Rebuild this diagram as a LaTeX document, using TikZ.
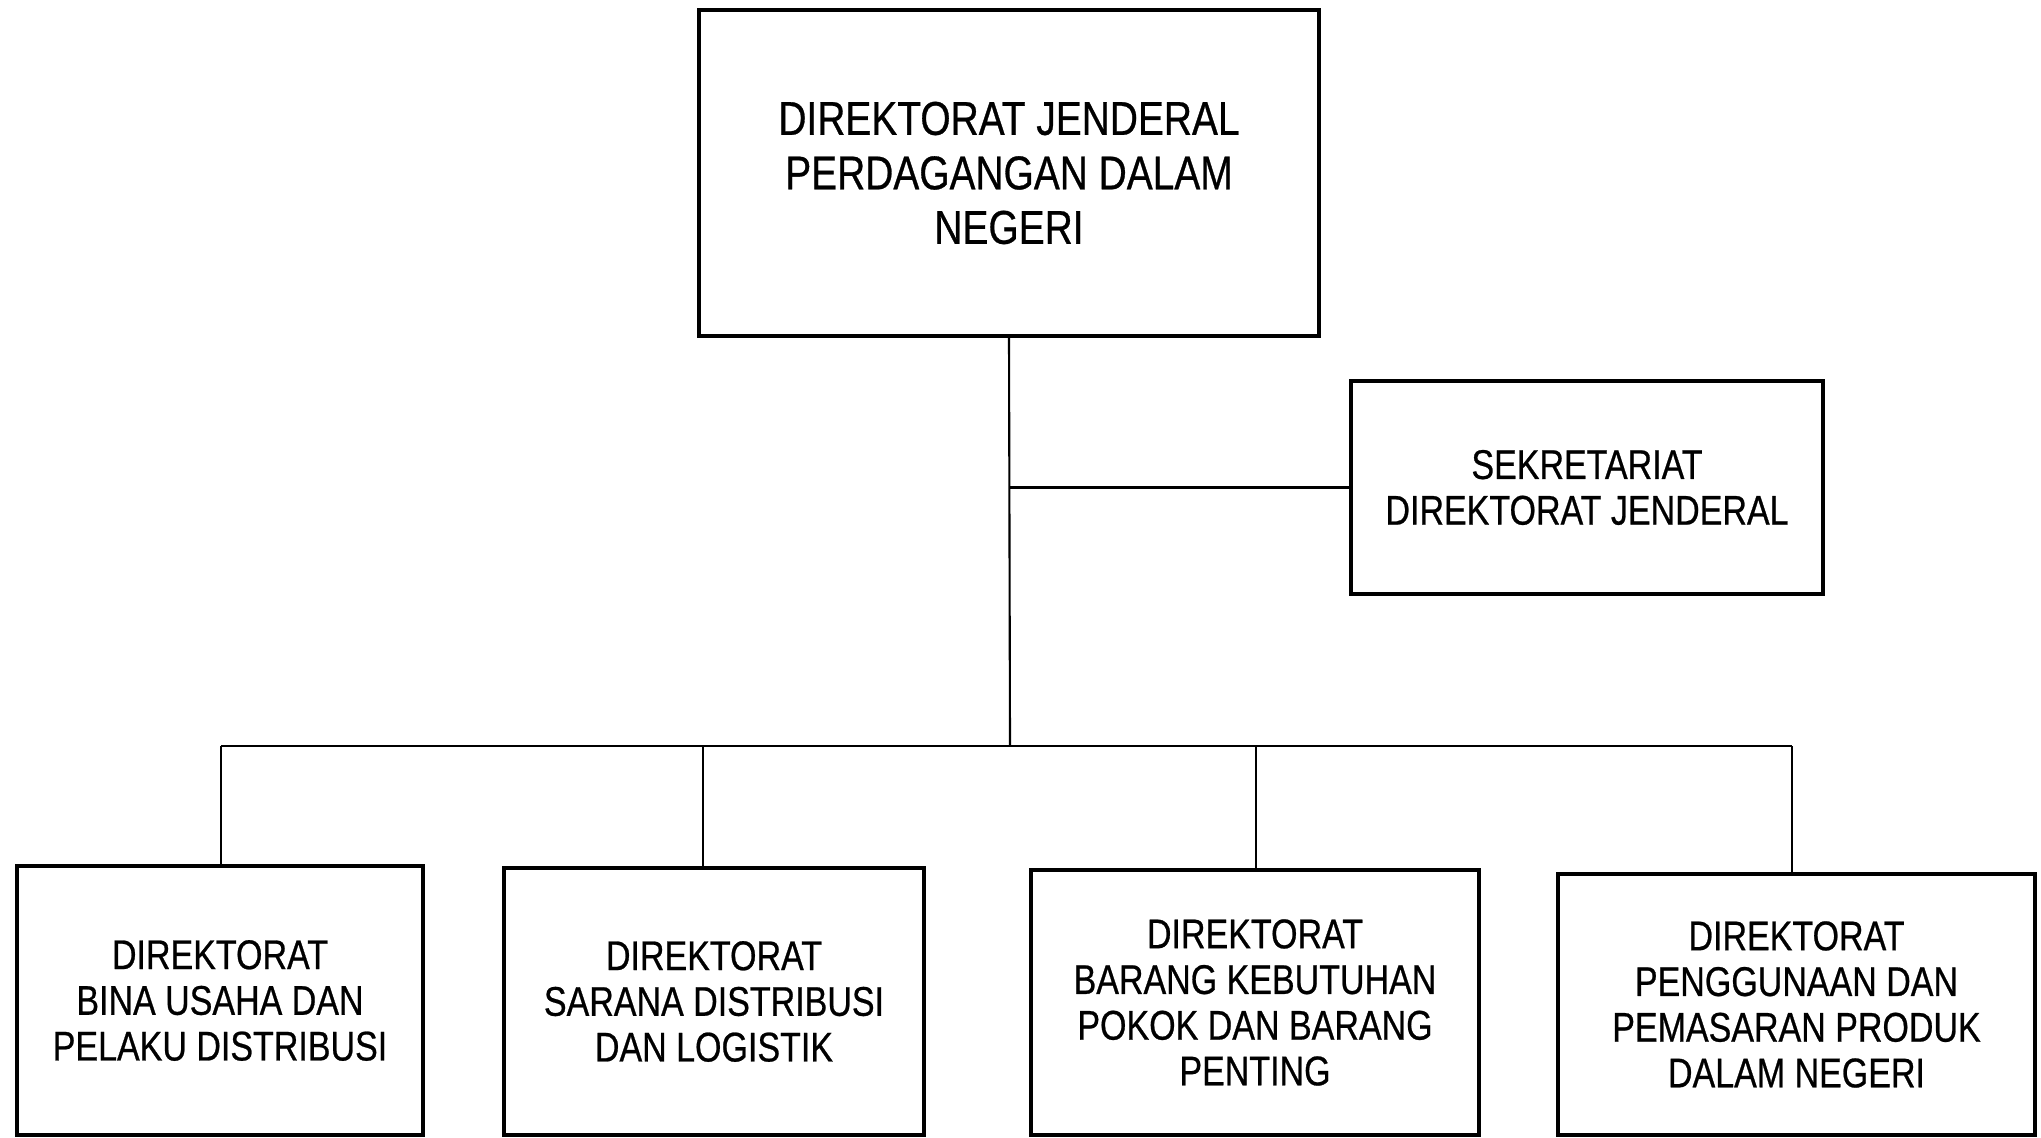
\documentclass[tikz,border=0pt]{standalone}
\usepackage{fontspec}
\setmainfont{Liberation Sans}[FakeStretch=0.82, FakeBold=0.6]
\usepackage{tikz}

\begin{document}
\begin{tikzpicture}
	\tikzstyle{unit}=[draw=black, line width=1.2pt, align=center, inner sep=0pt]
	\tikzstyle{link}=[black, line width=0.6pt]
	\useasboundingbox (0,0) rectangle (20.41,-11.38);
	\node [unit, minimum width=6.2cm, minimum height=3.26cm, font=\fontsize{13.5}{15.5}\selectfont] (dirjen) at (10.09,-1.73) {DIREKTORAT JENDERAL\\PERDAGANGAN DALAM\\NEGERI};
	\node [unit, minimum width=4.72cm, minimum height=2.13cm, font=\fontsize{11.8}{13}\selectfont] (sekre) at (15.87,-4.875) {SEKRETARIAT\\DIREKTORAT JENDERAL};
	\node [unit, minimum width=4.06cm, minimum height=2.69cm, font=\fontsize{11.8}{13}\selectfont] (bina) at (2.2,-10.005) {DIREKTORAT\\BINA USAHA DAN\\PELAKU DISTRIBUSI};
	\node [unit, minimum width=4.2cm, minimum height=2.67cm, font=\fontsize{11.8}{13}\selectfont] (sarana) at (7.14,-10.015) {DIREKTORAT\\SARANA DISTRIBUSI\\DAN LOGISTIK};
	\node [unit, minimum width=4.48cm, minimum height=2.65cm, font=\fontsize{11.8}{13}\selectfont] (bapok) at (12.55,-10.025) {DIREKTORAT\\BARANG KEBUTUHAN\\POKOK DAN BARANG\\PENTING};
	\node [unit, minimum width=4.77cm, minimum height=2.61cm, font=\fontsize{11.8}{13}\selectfont] (p2dn) at (17.965,-10.045) {DIREKTORAT\\PENGGUNAAN DAN\\PEMASARAN PRODUK\\DALAM NEGERI};
	% bus under the trunk
	\coordinate (bus) at (10.1,-7.46);
	\coordinate (j1) at (2.21,-7.46);
	\coordinate (j2) at (7.03,-7.46);
	\coordinate (j3) at (12.56,-7.46);
	\coordinate (j4) at (17.92,-7.46);
	\draw [link] (dirjen.south) -- (bus);
	\draw [link] (dirjen.south |- sekre.west) -- (sekre.west);
	\draw [link] (j1) -- (j4);
	\draw [link] (j1) -- (j1 |- bina.north);
	\draw [link] (j2) -- (j2 |- sarana.north);
	\draw [link] (j3) -- (j3 |- bapok.north);
	\draw [link] (j4) -- (j4 |- p2dn.north);
\end{tikzpicture}
\end{document}
